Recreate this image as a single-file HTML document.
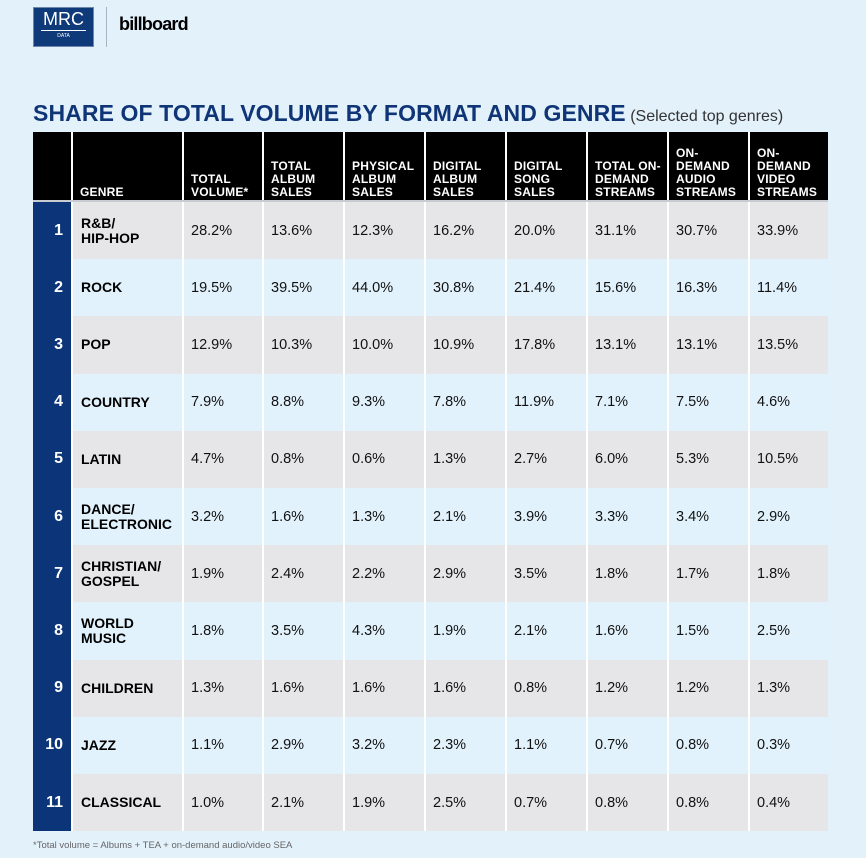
<!DOCTYPE html>
<html><head><meta charset="utf-8"><style>
*{margin:0;padding:0;box-sizing:border-box}
body{width:866px;height:858px;background:#e3f1fb;font-family:"Liberation Sans",sans-serif;position:relative;overflow:hidden}
.a{position:absolute}
.h{color:#fff;font-weight:900;font-size:12px;line-height:13px;letter-spacing:0.2px}
.c{font-size:14.5px;color:#111;display:flex;align-items:center}
.g{font-weight:900;font-size:14px;line-height:15px;color:#000}
.r{color:#fff;font-weight:900;font-size:16px;justify-content:flex-end;padding-right:8px}
</style></head><body>
<div class="a" style="left:33px;top:7px;width:61px;height:40px;background:#0f3a7a;border:1px solid #6d86ad"></div>
<div class="a" style="left:33px;top:9px;width:61px;text-align:center;color:#fff;font-size:18px;line-height:20px">MRC</div>
<div class="a" style="left:41px;top:30px;width:45px;height:1px;background:#fff"></div>
<div class="a" style="left:33px;top:33px;width:61px;text-align:center;color:#fff;font-size:5px">DATA</div>
<div class="a" style="left:106px;top:7px;width:1px;height:40px;background:#a8b4c0"></div>
<div class="a" style="left:119px;top:14px;font-weight:900;font-size:18px;letter-spacing:-0.8px;color:#000">billboard</div>
<div class="a" style="left:33px;top:100px;white-space:nowrap"><span style="font-weight:900;font-size:23px;color:#0f3577;letter-spacing:0.1px">SHARE OF TOTAL VOLUME BY FORMAT AND GENRE</span> <span style="font-size:16px;color:#333">(Selected top genres)</span></div>
<div class="a" style="left:33px;top:132px;width:795px;height:70px;background:#000"></div>
<div class="a" style="left:33px;top:202px;width:38px;height:629px;background:#0b3578"></div>
<div id="t"></div>
<div class="a" style="left:33px;top:840px;font-size:9.5px;color:#666">*Total volume = Albums + TEA + on-demand audio/video SEA</div>
<script>
var xs=[73,184,264,345,426,507,588,669,750,828];
var hd=["GENRE","TOTAL<br>VOLUME*","TOTAL<br>ALBUM<br>SALES","PHYSICAL<br>ALBUM<br>SALES","DIGITAL<br>ALBUM<br>SALES","DIGITAL<br>SONG<br>SALES","TOTAL ON-<br>DEMAND<br>STREAMS","ON-<br>DEMAND<br>AUDIO<br>STREAMS","ON-<br>DEMAND<br>VIDEO<br>STREAMS"];
var d=[["R&amp;B/<br>HIP-HOP","28.2","13.6","12.3","16.2","20.0","31.1","30.7","33.9"],
["ROCK","19.5","39.5","44.0","30.8","21.4","15.6","16.3","11.4"],
["POP","12.9","10.3","10.0","10.9","17.8","13.1","13.1","13.5"],
["COUNTRY","7.9","8.8","9.3","7.8","11.9","7.1","7.5","4.6"],
["LATIN","4.7","0.8","0.6","1.3","2.7","6.0","5.3","10.5"],
["DANCE/<br>ELECTRONIC","3.2","1.6","1.3","2.1","3.9","3.3","3.4","2.9"],
["CHRISTIAN/<br>GOSPEL","1.9","2.4","2.2","2.9","3.5","1.8","1.7","1.8"],
["WORLD<br>MUSIC","1.8","3.5","4.3","1.9","2.1","1.6","1.5","2.5"],
["CHILDREN","1.3","1.6","1.6","1.6","0.8","1.2","1.2","1.3"],
["JAZZ","1.1","2.9","3.2","2.3","1.1","0.7","0.8","0.3"],
["CLASSICAL","1.0","2.1","1.9","2.5","0.7","0.8","0.8","0.4"]];
var h="";
for(var j=0;j<9;j++){h+='<div class="a h" style="left:'+(xs[j]+7)+'px;top:132px;height:67px;width:'+(xs[j+1]-xs[j]-8)+'px;display:flex;align-items:flex-end">'+hd[j]+'</div>';
if(j>0)h+='<div class="a" style="left:'+(xs[j]-2)+'px;top:132px;width:2px;height:699px;background:#fff"></div>';}
h+='<div class="a" style="left:71px;top:132px;width:2px;height:699px;background:#fff"></div>';
h+='<div class="a" style="left:33px;top:200px;width:795px;height:2px;background:#c8ccd2"></div>';
for(var i=0;i<11;i++){var y=202+i*57.2;var bg=i%2?"#e2f2fc":"#e6e6e8";
h+='<div class="a" style="left:73px;top:'+y+'px;width:755px;height:57.2px;background:'+bg+';z-index:-1"></div>';
h+='<div class="a c r" style="left:33px;top:'+y+'px;width:38px;height:57px">'+(i+1)+'</div>';
h+='<div class="a c g" style="left:81px;top:'+y+'px;height:57px">'+d[i][0]+'</div>';
for(var j=1;j<9;j++)h+='<div class="a c" style="left:'+(xs[j]+7)+'px;top:'+y+'px;height:57px">'+d[i][j]+'%</div>';}
document.getElementById("t").innerHTML=h;
</script>
</body></html>
